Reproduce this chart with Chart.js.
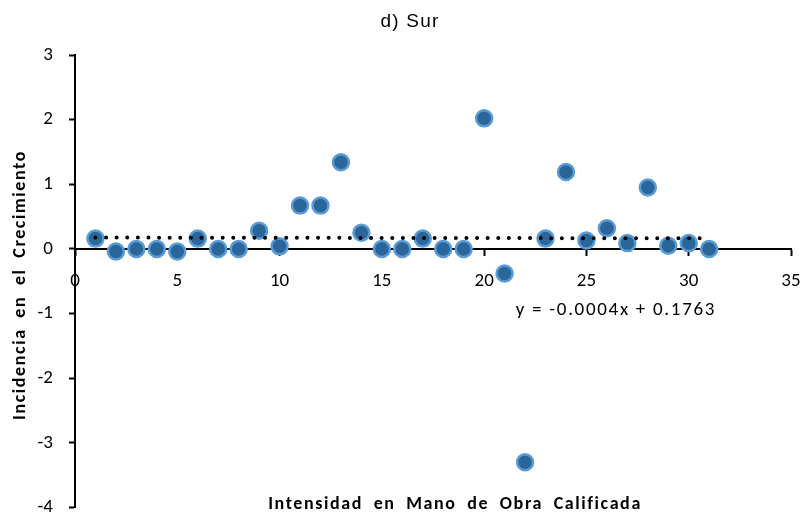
<!DOCTYPE html>
<html>
<head>
<meta charset="utf-8">
<script src="https://cdn.jsdelivr.net/npm/chart.js@4/dist/chart.umd.min.js"></script>
<style>
  html, body { margin: 0; padding: 0; background: #fff; }
  #wrap { width: 805px; height: 518px; }
</style>
</head>
<body>
<div id="wrap"><canvas id="sur_chart" width="805" height="518"></canvas></div>
<script>
// data
var x_values = [1, 2, 3, 4, 5, 6, 7, 8, 9, 10, 11, 12, 13, 14, 15, 16, 17, 18, 19, 20, 21, 22, 23, 24, 25, 26, 27, 28, 29, 30, 31];
var y_values = [0.16, -0.04, 0.0, 0.0, -0.04, 0.16, 0.0, 0.0, 0.28, 0.04, 0.67, 0.67, 1.34, 0.25, 0.0, 0.0, 0.16, 0.0, 0.0, 2.02, -0.38, -3.30, 0.16, 1.19, 0.13, 0.32, 0.09, 0.95, 0.05, 0.09, 0.0];
var trend_x = [1, 31];
var trend_y = [0.1759, 0.1639];
var x_ticks = [0, 5, 10, 15, 20, 25, 30, 35];
var y_ticks = [3, 2, 1, 0, -1, -2, -3, -4];

var title_text = 'd) Sur';
var x_title = 'Intensidad en Mano de Obra Calificada';
var y_title = 'Incidencia en el Crecimiento';
var equation_text = 'y = -0.0004x + 0.1763';

var tick_font = 'Carlito, Lato, sans-serif';

var scatter_points = x_values.map(function(x, i){ return {x: x, y: y_values[i]}; });
var trend_points = trend_x.map(function(x, i){ return {x: x, y: trend_y[i]}; });

// titles and the equation label, drawn on top of the canvas
var labels_plugin = {
  id: 'labels_plugin',
  afterDraw: function(chart){
    var ctx = chart.ctx;
    ctx.save();
    ctx.fillStyle = '#000';
    ctx.textAlign = 'center';
    ctx.textBaseline = 'middle';

    ctx.font = '19px "Liberation Sans", Arial, sans-serif';
    ctx.letterSpacing = '1.2px';
    ctx.fillText(title_text, 410, 22);

    ctx.font = '19px ' + tick_font;
    ctx.letterSpacing = '1.7px';
    ctx.fillText(equation_text, 616, 310);

    ctx.font = 'bold 18px ' + tick_font;
    ctx.letterSpacing = '1.6px';
    ctx.wordSpacing = '5px';
    ctx.fillText(x_title, 455, 504);

    ctx.translate(20, 285);
    ctx.rotate(-Math.PI / 2);
    ctx.fillText(y_title, 0, 0);
    ctx.restore();
  }
};

var ctx = document.getElementById('sur_chart').getContext('2d');
new Chart(ctx, {
  type: 'scatter',
  data: {
    datasets: [{
      label: 'trend',
      type: 'line',
      data: trend_points,
      borderColor: '#000',
      borderWidth: 4,
      borderDash: [0, 10.6],
      borderCapStyle: 'round',
      pointRadius: 0,
      fill: false,
      order: 1
    }, {
      label: 'Sur',
      data: scatter_points,
      backgroundColor: '#2A6699',
      borderColor: '#5B9BD5',
      borderWidth: 2.5,
      pointRadius: 8,
      pointHoverRadius: 8,
      order: 2
    }]
  },
  options: {
    responsive: false,
    animation: false,
    devicePixelRatio: 1,
    layout: { padding: { left: 0, right: 14, top: 55, bottom: 9 } },
    plugins: {
      legend: { display: false },
      tooltip: { enabled: false },
      title: { display: false }
    },
    scales: {
      x: {
        type: 'linear',
        min: 0,
        max: 35,
        position: { y: 0 },
        afterBuildTicks: function(scale){
          scale.ticks = x_ticks.map(function(v){ return {value: v}; });
        },
        afterFit: function(scale){
          scale.height = 0;
          scale.paddingLeft = 0;
          scale.paddingRight = 0;
        },
        grid: { drawOnChartArea: false, drawTicks: true, tickLength: 6, tickWidth: 2, tickColor: '#000' },
        border: { display: true, color: '#000', width: 2 },
        ticks: { color: '#000', font: { family: tick_font, size: 19 }, padding: 15, maxRotation: 0, autoSkip: false }
      },
      y: {
        type: 'linear',
        min: -4,
        max: 3,
        position: 'left',
        afterBuildTicks: function(scale){
          scale.ticks = y_ticks.map(function(v){ return {value: v}; });
        },
        afterFit: function(scale){
          scale.width = 75;
          scale.paddingTop = 0;
          scale.paddingBottom = 0;
        },
        grid: { drawOnChartArea: false, drawTicks: true, tickLength: 6, tickWidth: 2, tickColor: '#000' },
        border: { display: true, color: '#000', width: 2 },
        ticks: { color: '#000', font: { family: tick_font, size: 19 }, padding: 16, autoSkip: false }
      }
    }
  },
  plugins: [labels_plugin]
});
</script>
</body>
</html>
